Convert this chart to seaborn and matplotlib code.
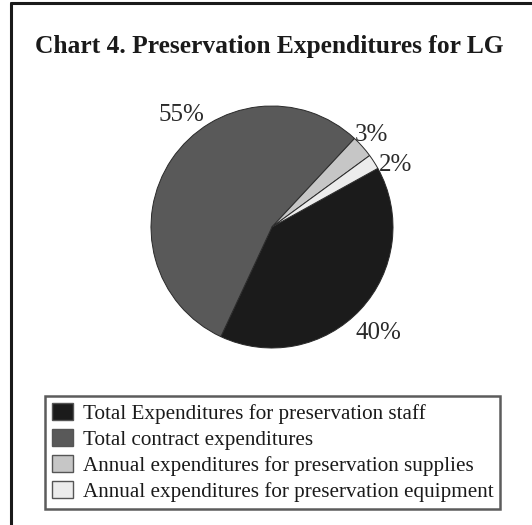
import matplotlib
matplotlib.use("Agg")
import matplotlib.pyplot as plt
import seaborn as sns
import numpy as np
from matplotlib.lines import Line2D

# Preservation expenditure shares (percent)
categories = [
    "Total Expenditures for preservation staff",
    "Total contract expenditures",
    "Annual expenditures for preservation supplies",
    "Annual expenditures for preservation equipment",
]
shares = [40, 55, 3, 2]
title = "Chart 4. Preservation Expenditures for LG"

sns.set_theme(style="white")
plt.rcParams["font.family"] = ["Liberation Serif", "DejaVu Serif"]

colors = ["#1b1b1b", "#595959", "#c6c6c6", "#ececec"]

W, H = 532, 525
fig = plt.figure(figsize=(W / 100, H / 100), dpi=100)
fig.patch.set_facecolor("white")

# outer frame: left and top rules
fig.add_artist(Line2D([11 / W, 11 / W], [0, 1 - 3 / H], color="#1a1a1a", lw=2.2))
fig.add_artist(Line2D([11 / W, 1], [1 - 3 / H, 1 - 3 / H], color="#1a1a1a", lw=2.2))

fig.text(269 / W, 1 - 47 / H, title, ha="center", va="center",
         fontsize=18.4, fontweight="bold", color="#1a1a1a")

# pie axes, centred at (272, 227) px with radius 121 px
cx, cy, r = 272, 227, 121
ax = fig.add_axes([(cx - r) / W, (H - cy - r) / H, 2 * r / W, 2 * r / H])
wedges, _ = ax.pie(shares, colors=colors, startangle=29, counterclock=False,
                   wedgeprops=dict(edgecolor="#2a2a2a", linewidth=0.7))
ax.set_xlim(-1, 1)
ax.set_ylim(-1, 1)
ax.set_aspect("equal")
ax.axis("off")

# percentage labels placed just outside each wedge
angle_shift = [-1, -18, 2.5, -4.5]
label_r = [1.22, 1.21, 1.14, 1.16]
for w, v, da, lr in zip(wedges, shares, angle_shift, label_r):
    mid = np.deg2rad((w.theta1 + w.theta2) / 2 + da)
    ax.text(lr * np.cos(mid), lr * np.sin(mid) - 0.03, f"{v}%", ha="center", va="center",
            fontsize=18, color="#2a2a2a", clip_on=False)

leg = fig.legend(wedges, categories, loc="upper left",
                 bbox_to_anchor=(45 / W, 1 - 396 / H),
                 fontsize=15.2, frameon=True, fancybox=False,
                 handlelength=1.0, handleheight=0.85, handletextpad=0.45,
                 labelspacing=0.25, borderpad=0.33, borderaxespad=0)
frame = leg.get_frame()
frame.set_edgecolor("#333333")
frame.set_linewidth(1.8)
for t in leg.get_texts():
    t.set_color("#1a1a1a")
for h in leg.legend_handles:
    h.set_edgecolor("#555555")
    h.set_linewidth(1.0)

fig.savefig("out.png", dpi=100, facecolor="white")
